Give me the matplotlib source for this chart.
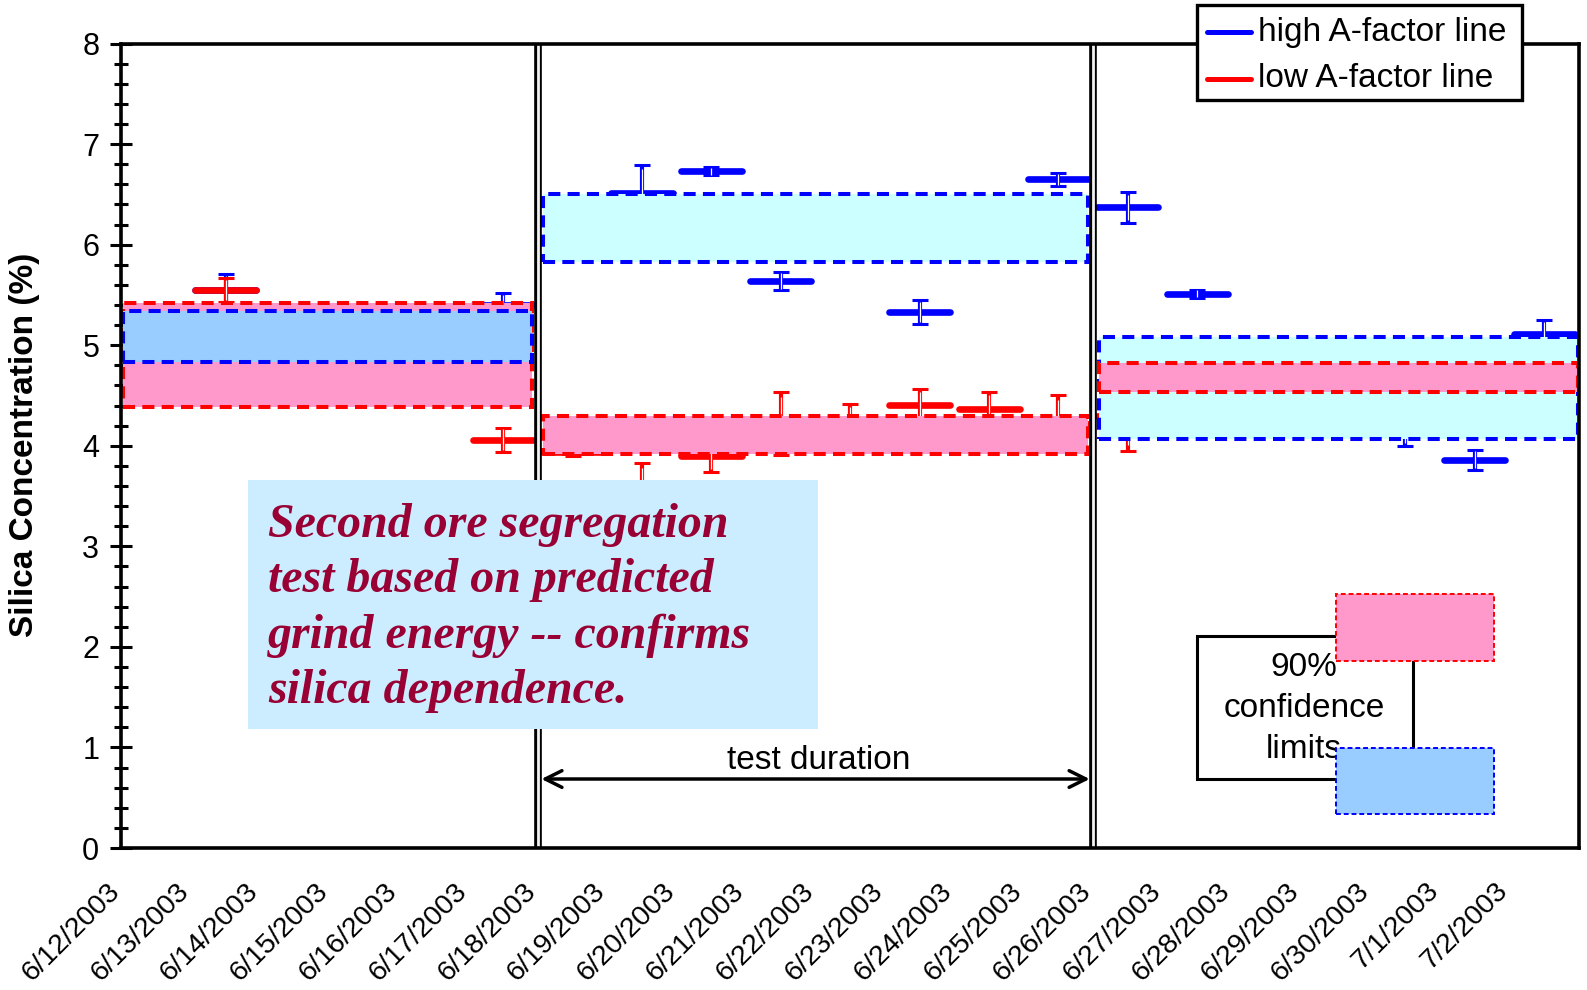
import matplotlib
matplotlib.use("Agg")
import matplotlib.pyplot as plt
import matplotlib.transforms as mtransforms
from matplotlib.patches import Rectangle
from matplotlib.ticker import MultipleLocator

plt.rcParams["font.family"] = ["Liberation Sans", "DejaVu Sans"]

# Sampling dates (one category per day)
dates = ["6/12/2003", "6/13/2003", "6/14/2003", "6/15/2003", "6/16/2003",
         "6/17/2003", "6/18/2003", "6/19/2003", "6/20/2003", "6/21/2003",
         "6/22/2003", "6/23/2003", "6/24/2003", "6/25/2003", "6/26/2003",
         "6/27/2003", "6/28/2003", "6/29/2003", "6/30/2003", "7/1/2003",
         "7/2/2003"]

# Daily silica results, high A-factor line (day index, %, +/- error)
high_days = [1, 5, 7, 8, 9, 11, 13, 14, 15, 18, 19, 20]
high_vals = [5.55, 5.40, 6.51, 6.73, 5.64, 5.33, 6.65, 6.37, 5.51, 4.15, 3.86, 5.11]
high_errs = [0.16, 0.12, 0.28, 0.04, 0.09, 0.115, 0.065, 0.15, 0.04, 0.15, 0.10, 0.14]

# Daily silica results, low A-factor line
low_days = [1, 5, 6, 7, 8, 9, 10, 11, 12, 13, 14]
low_vals = [5.55, 4.06, 3.94, 3.50, 3.90, 4.22, 4.20, 4.41, 4.37, 4.22, 4.30]
low_errs = [0.12, 0.12, 0.04, 0.33, 0.16, 0.31, 0.22, 0.15, 0.16, 0.28, 0.35]

# Periods (before / during / after the test) and their 90% confidence limits
period_bounds = [(0, 6), (6, 14), (14, 21)]
high_limits = [(4.83, 5.34), (5.83, 6.50), (4.07, 5.08)]
low_limits = [(4.39, 5.42), (3.92, 4.30), (4.53, 4.82)]
high_fill = ["#99CCFF", "#CCFFFF", "#CCFFFF"]
high_on_top = [True, True, False]
test_start, test_end = 6, 14

BLUE = "#0000FF"
RED = "#FF0000"
PINK = "#FF99CC"

fig = plt.figure(figsize=(15.87, 9.90), dpi=100)
ax = fig.add_axes([121.5 / 1587, 1 - 848 / 990, (1579 - 121.5) / 1587, (848 - 43.5) / 990])
ax.set_xlim(0, len(dates))
ax.set_ylim(0, 8)

for sp in ax.spines.values():
    sp.set_linewidth(2.6)
    sp.set_zorder(6)

ax.yaxis.set_major_locator(MultipleLocator(1))
ax.yaxis.set_minor_locator(MultipleLocator(0.2))
ax.tick_params(axis="y", which="major", direction="inout", length=16, width=2.2,
               labelsize=22, pad=8)
ax.tick_params(axis="y", which="minor", direction="inout", length=10, width=2.2)
ax.set_xticks([])

# x labels: rotated dates ending just left of each day's boundary
off = mtransforms.ScaledTranslation(-15 / 100, -30 / 100, fig.dpi_scale_trans)
trans = mtransforms.blended_transform_factory(ax.transData, ax.transAxes) + off
for i, lab in enumerate(dates):
    ax.text(i, 0, lab, transform=trans, rotation=45, rotation_mode="anchor",
            ha="right", va="top", fontsize=20.5, clip_on=False)

fig.text(25 / 1587, 1 - 445 / 990, "Silica Concentration (%)", rotation=90,
         ha="center", va="center", fontsize=24, fontweight="bold")


def draw_series(days, vals, errs, color, z):
    for d, v in zip(days, vals):
        ax.plot([d + 0.06, d + 0.94], [v, v], color=color, lw=4.8,
                solid_capstyle="round", zorder=z)
    xs = [d + 0.5 for d in days]
    ax.errorbar(xs, vals, yerr=errs, fmt="none", ecolor=color, elinewidth=3.0,
                capsize=5.8, capthick=2.2, zorder=z)
    ax.vlines(xs, [v - e * 0.85 for v, e in zip(vals, errs)],
              [v + e * 0.85 for v, e in zip(vals, errs)],
              color="white", lw=0.9, zorder=z + 0.01)


draw_series(high_days, high_vals, high_errs, BLUE, 2.0)
draw_series(low_days, low_vals, low_errs, RED, 2.1)


def conf_box(x0, x1, lims, face, edge, z):
    lo, hi = lims
    ax.add_patch(Rectangle((x0, lo), x1 - x0, hi - lo, facecolor=face,
                           edgecolor="none", zorder=z))
    ax.add_patch(Rectangle((x0, lo), x1 - x0, hi - lo, facecolor="none",
                           edgecolor=edge, lw=2.9, linestyle=(0, (3, 1.8)),
                           zorder=z + 0.01))


for k, (x0, x1) in enumerate(period_bounds):
    zh, zl = (3.2, 3.0) if high_on_top[k] else (3.0, 3.2)
    left = x0 + (0.02 if x0 == 0 else 0.08)
    right = x1 - (0.02 if x1 == len(dates) else 0.08)
    conf_box(left, right, high_limits[k], high_fill[k], BLUE, zh)
    conf_box(left, right, low_limits[k], PINK, RED, zl)

# Test period boundaries (double rule)
for xv in (test_start, test_end):
    ax.axvline(xv, color="black", lw=5.5, zorder=4)
    ax.axvline(xv, color="#f2f2f2", lw=2.0, zorder=4.1)

# Test duration arrow
ax.annotate("", xy=(test_start + 0.05, 0.686), xytext=(test_end - 0.05, 0.686),
            arrowprops=dict(arrowstyle="<->", lw=2.5, color="black",
                            mutation_scale=30, shrinkA=0, shrinkB=0), zorder=4)
ax.text((test_start + test_end) / 2 + 0.04, 0.87, "test duration", ha="center",
        va="center", fontsize=24, zorder=4)

# Callout box
ax.add_patch(Rectangle((1.82, 1.18), 8.22, 2.48, facecolor="#CCECFF",
                       edgecolor="none", zorder=5))
ax.text(2.11, 2.39, "Second ore segregation\ntest based on predicted\n"
        "grind energy -- confirms\nsilica dependence.",
        ha="left", va="center", fontsize=34.5, family="Liberation Serif",
        fontweight="bold", fontstyle="italic", color="#990033",
        linespacing=1.33, zorder=5.1)

# Confidence limit key
ax.add_patch(Rectangle((15.50, 0.686), 3.11, 1.421, facecolor="white",
                       edgecolor="black", lw=2.2, zorder=5))
ax.text(17.04, 1.39, "90%\nconfidence\nlimits", ha="center", va="center",
        fontsize=24, linespacing=1.42, zorder=5.05)
ax.add_patch(Rectangle((17.50, 1.859), 2.28, 0.666, facecolor=PINK,
                       edgecolor=RED, lw=1.4, linestyle=(0, (2.5, 1.5)), zorder=5.1))
ax.add_patch(Rectangle((17.50, 0.338), 2.28, 0.656, facecolor="#99CCFF",
                       edgecolor=BLUE, lw=1.4, linestyle=(0, (2.5, 1.5)), zorder=5.1))

# Series key
ax.add_patch(Rectangle((15.50, 7.44), 4.68, 0.94, facecolor="white",
                       edgecolor="black", lw=2.4, zorder=7, clip_on=False))
for yk, col, lab in ((8.11, BLUE, "high A-factor line"), (7.65, RED, "low A-factor line")):
    ax.plot([15.64, 16.28], [yk, yk], color=col, lw=3.6, solid_capstyle="round",
            zorder=7.1, clip_on=False)
    ax.text(16.38, yk, lab, ha="left", va="center", fontsize=24, zorder=7.1,
            clip_on=False)

fig.savefig("out.png", dpi=100)
